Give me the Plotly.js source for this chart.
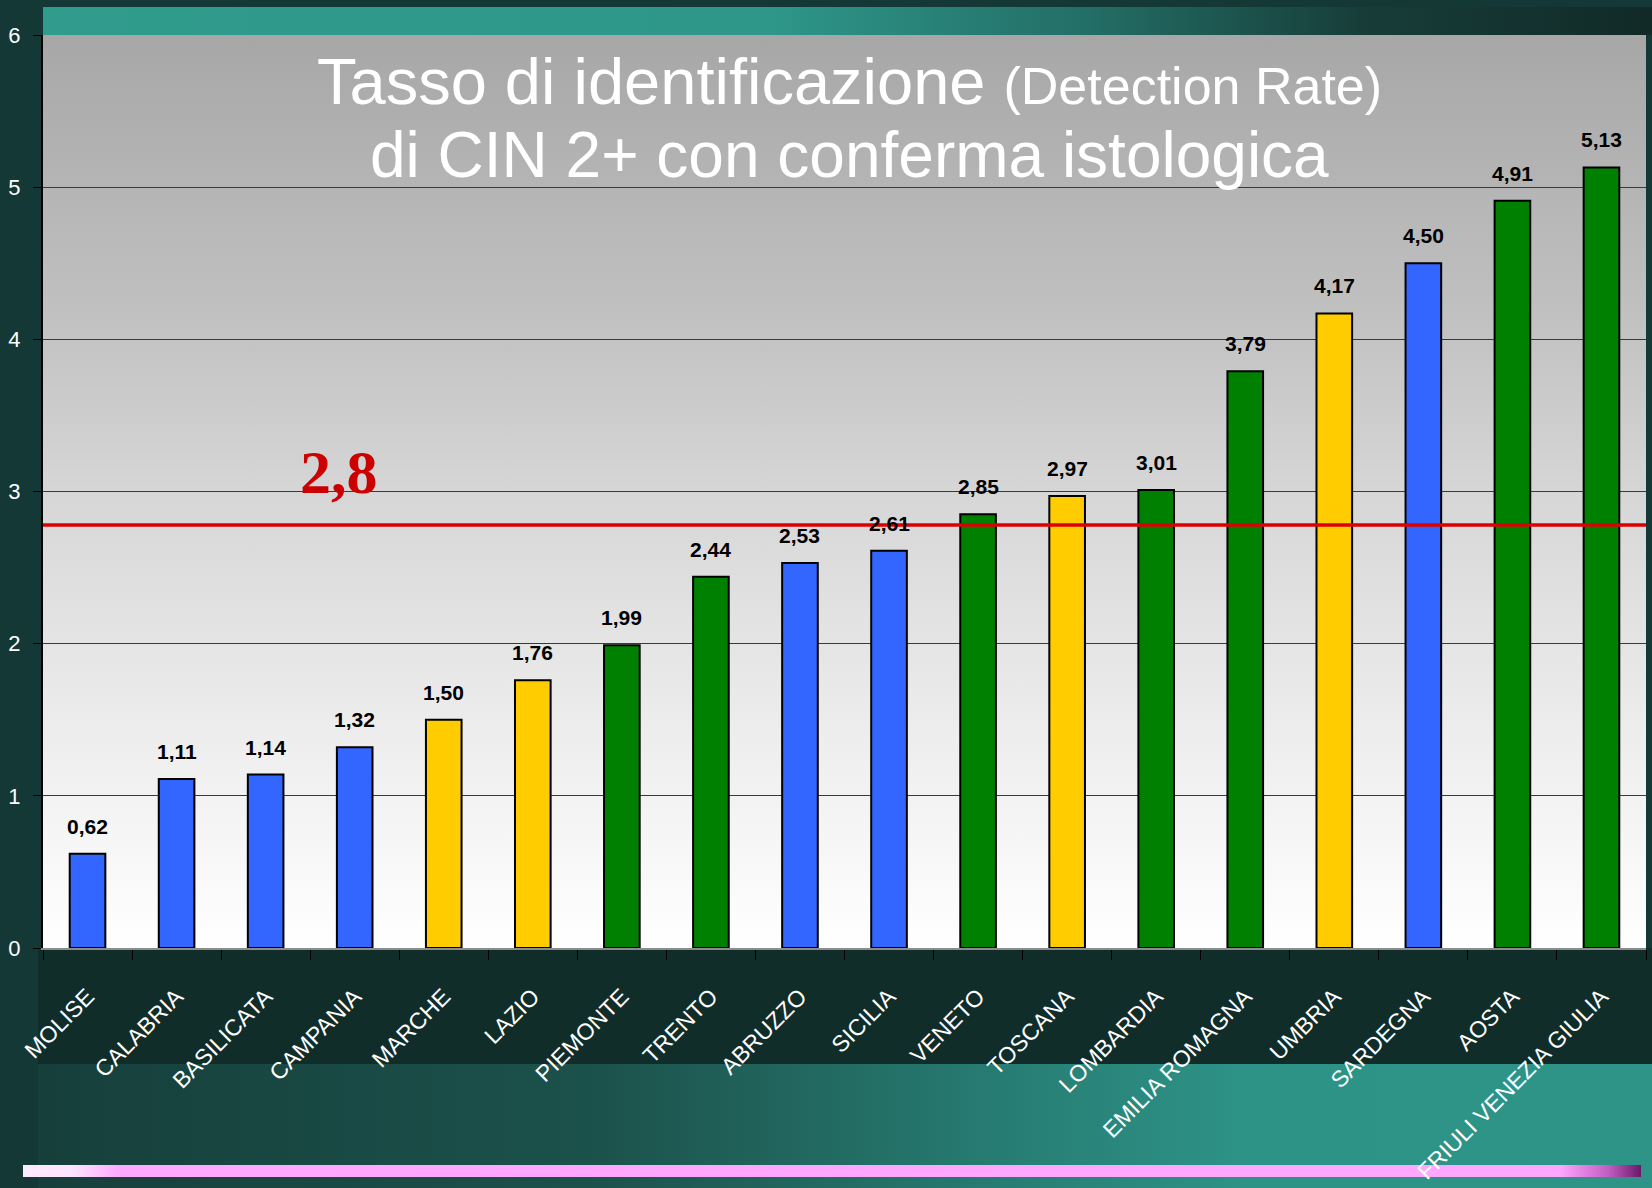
<!DOCTYPE html>
<html>
<head>
<meta charset="utf-8">
<script src="https://cdn.plot.ly/plotly-3.0.1.min.js"></script>
<style>
  html, body { margin:0; padding:0; }
  body { width:1652px; height:1188px; position:relative; overflow:hidden; background:#133836; font-family:"Liberation Sans", Arial, sans-serif; }
  .bg { position:absolute; }
  #topband { left:43px; top:7px; width:1609px; height:28px; background:linear-gradient(to right, #309c8c 0%, #2e978a 45%, #236e66 65%, #173d39 82%, #112a27 100%); }
  #plotbg { left:43px; top:35px; width:1603px; height:913px; background:linear-gradient(to bottom, #a7a7a7 0%, #c0c0c0 30%, #d6d6d6 50%, #ececec 75%, #ffffff 100%); }
  #darkband { left:38px; top:948px; width:1614px; height:116px; background:#112d2a; }
  #lowband { left:38px; top:1064px; width:1614px; height:124px; background:linear-gradient(to right, #163f3b 0%, #1c524c 35%, #277d73 60%, #2e9387 75%, #2f9488 100%); }
  #pink { left:23px; top:1165px; width:1618px; height:12px; background:linear-gradient(to right, #fdeafd 0%, #fde4fd 3%, #ffa8ff 6%, #ffa6ff 95%, #c25cc2 98%, #6a1a6a 100%); }
  #chart { position:absolute; left:0; top:0; width:1652px; height:1188px; }
</style>
</head>
<body>
<div class="bg" id="topband"></div>
<div class="bg" id="plotbg"></div>
<div class="bg" id="darkband"></div>
<div class="bg" id="lowband"></div>
<div class="bg" id="pink"></div>
<div id="chart"></div>
<script>
// ---- data ----
const regions = ["MOLISE","CALABRIA","BASILICATA","CAMPANIA","MARCHE","LAZIO","PIEMONTE","TRENTO","ABRUZZO","SICILIA","VENETO","TOSCANA","LOMBARDIA","EMILIA ROMAGNA","UMBRIA","SARDEGNA","AOSTA","FRIULI VENEZIA GIULIA"];
const detectionRate = [0.62,1.11,1.14,1.32,1.50,1.76,1.99,2.44,2.53,2.61,2.85,2.97,3.01,3.79,4.17,4.50,4.91,5.13];
const area = ["Sud","Sud","Sud","Sud","Centro","Centro","Nord","Nord","Sud","Sud","Nord","Centro","Nord","Nord","Centro","Sud","Nord","Nord"];
const referenceValue = 2.78;
const referenceLabel = "2,8";
const yTicks = [0,1,2,3,4,5,6];

// ---- styles ----
const areaColors = { "Nord":"#008000", "Centro":"#FFCC00", "Sud":"#3366FF" };
const FONT = "Liberation Sans, Arial, sans-serif";

const barTrace = {
  type: "bar",
  x: regions,
  y: detectionRate,
  marker: { color: area.map(a => areaColors[a]), line: { color: "#000000", width: 2 } },
  hoverinfo: "x+y"
};

const valueLabels = regions.map((r, i) => ({
  x: r, y: detectionRate[i], xref: "x", yref: "y",
  text: detectionRate[i].toFixed(2).replace(".", ","),
  showarrow: false, yanchor: "bottom", yshift: 14,
  font: { family: FONT, size: 21, color: "#000000", weight: "bold" }
}));

const titleLines = [
  { x: 0.503, y: 0.991, xref: "paper", yref: "paper", showarrow: false,
    text: "Tasso di identificazione <span style='font-size:52px'>(Detection Rate)</span>",
    font: { family: FONT, size: 65, color: "#ffffff" } },
  { x: 0.503, y: 0.910, xref: "paper", yref: "paper", showarrow: false,
    text: "di CIN 2+ con conferma istologica",
    font: { family: FONT, size: 64, color: "#ffffff" } },
  { x: 0.159, y: referenceValue, xref: "paper", yref: "y", showarrow: false,
    yanchor: "bottom", yshift: 17,
    text: "<b>" + referenceLabel + "</b>",
    font: { family: "Liberation Serif, Times New Roman, serif", size: 62, color: "#cc0000" } }
];

const layout = {
  width: 1652, height: 1188,
  margin: { l: 43, r: 6, t: 35, b: 240, pad: 0 },
  paper_bgcolor: "rgba(0,0,0,0)",
  plot_bgcolor: "rgba(0,0,0,0)",
  separators: ", ",
  showlegend: false,
  bargap: 0.6,
  xaxis: {
    type: "category",
    tickangle: -45,
    tickson: "boundaries",
    ticks: "outside", ticklen: 10, tickcolor: "#000000", tickwidth: 1,
    ticklabelstandoff: 24,
    showline: true, linecolor: "#8c8c8c", linewidth: 2,
    showgrid: false,
    tickfont: { family: FONT, size: 23, color: "#ffffff" }
  },
  yaxis: {
    range: [0, 6],
    tickvals: yTicks,
    ticktext: yTicks.map(String),
    ticks: "outside", ticklen: 8, tickcolor: "#000000",
    ticklabelstandoff: 8,
    showline: true, linecolor: "#000000", linewidth: 2,
    showgrid: true, gridcolor: "#3a3a3a", gridwidth: 1,
    zeroline: false,
    tickfont: { family: FONT, size: 22, color: "#ffffff" }
  },
  shapes: [
    { type: "line", xref: "paper", yref: "y", x0: 0, x1: 1, y0: referenceValue, y1: referenceValue,
      line: { color: "#dd0000", width: 3.5 } }
  ],
  annotations: valueLabels.concat(titleLines)
};

Plotly.newPlot("chart", [barTrace], layout, { displayModeBar: false, staticPlot: true });
</script>
</body>
</html>
